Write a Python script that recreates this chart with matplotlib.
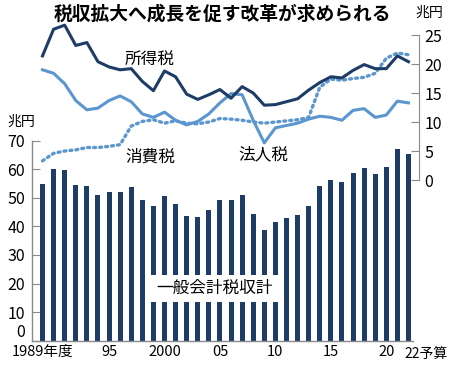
import numpy as np
import matplotlib
matplotlib.use('Agg')
import matplotlib.pyplot as plt

plt.rcParams['font.family'] = ['Noto Sans CJK JP', 'DejaVu Sans']

# fiscal years 1989-2022 (2022 = budget)
years = list(range(1989, 2023))
# general account total tax revenue (trillion yen, left axis)
total = [54.9, 60.1, 59.8, 54.4, 54.1, 51.0, 51.9, 52.1, 53.9, 49.4,
         47.2, 50.7, 47.9, 43.8, 43.3, 45.6, 49.1, 49.1, 51.0, 44.3,
         38.7, 41.5, 42.8, 43.9, 47.0, 54.0, 56.3, 55.5, 58.8, 60.4,
         58.4, 60.8, 67.0, 65.2]
# income tax / corporate tax / consumption tax (right axis)
income = [21.4, 26.0, 26.7, 23.2, 23.7, 20.4, 19.5, 19.0, 19.2, 17.0,
          15.4, 18.8, 17.8, 14.8, 13.9, 14.7, 15.6, 14.1, 16.1, 15.0,
          12.9, 13.0, 13.5, 14.0, 15.5, 16.8, 17.8, 17.6, 18.9, 19.9,
          19.2, 19.2, 21.4, 20.4]
corp = [19.0, 18.4, 16.6, 13.7, 12.1, 12.4, 13.7, 14.5, 13.5, 11.4,
        10.8, 11.7, 10.3, 9.5, 10.1, 11.4, 13.3, 14.9, 14.7, 10.3,
        6.4, 9.0, 9.4, 9.8, 10.5, 11.0, 10.8, 10.3, 12.0, 12.3,
        10.8, 11.2, 13.6, 13.3]
consumption = [3.3, 4.6, 5.0, 5.2, 5.6, 5.6, 5.8, 6.1, 9.3, 10.1,
               10.4, 9.8, 10.2, 9.8, 9.7, 10.0, 10.6, 10.5, 10.3, 10.0,
               9.8, 10.0, 10.2, 10.4, 10.8, 16.0, 17.4, 17.2, 17.5, 17.7,
               18.4, 21.0, 21.9, 21.6]
tick_idx = [0, 6, 11, 16, 21, 26, 31]
tick_labels = ['1989年度', '95', '2000', '05', '10', '15', '20']

navy = '#1d3d66'
blue = '#5b96cf'
grey = '#8a8a8a'

x = np.arange(len(years))

fig = plt.figure(figsize=(4.5, 3.66), dpi=100)
ax = fig.add_axes([32/450, 25.3/366, 387/450, 320.7/366])
ax.bar(x, total, width=0.45, color=navy, zorder=2)
ax.set_xlim(-0.947, 33.95)
ax.set_ylim(0, 112.25)
ax.set_yticks(range(0, 71, 10))
for s in ['top', 'right']:
    ax.spines[s].set_visible(False)
ax.spines['left'].set_bounds(0, 70)
ax.spines['bottom'].set_bounds(-0.947, 33.41)
for s in ['left', 'bottom']:
    ax.spines[s].set_color(grey)
    ax.spines[s].set_linewidth(1)
ax.tick_params(axis='y', direction='in', length=6, color=grey, labelsize=11.5, pad=5)
ax.get_yticklabels()[0].set_va('bottom')
ax.set_xticks(tick_idx)
ax.set_xticklabels(tick_labels)
ax.tick_params(axis='x', length=0, labelsize=10.5, pad=3)
ax.text(32.6, -2.6, '22予算', ha='left', va='top', fontsize=10)

ax.text(15.51, 18.4, '一般会計税収計', ha='center', va='center', fontsize=12,
        zorder=5, bbox=dict(boxstyle='square,pad=0.3', facecolor='white', edgecolor='none'))

ax2 = ax.twinx()
ax2.set_ylim(-27.71, 27.59)
ax2.plot(x, consumption, color=blue, linewidth=2.4, linestyle=(0, (0.6, 1.2)),
         dash_capstyle='round', clip_on=False)
ax2.plot(x, corp, color=blue, linewidth=2.2, clip_on=False)
ax2.plot(x, income, color=navy, linewidth=2.2, clip_on=False)
for s in ['top', 'left', 'bottom']:
    ax2.spines[s].set_visible(False)
ax2.spines['right'].set_bounds(0, 25)
ax2.spines['right'].set_color(grey)
ax2.set_yticks(range(0, 26, 5))
ax2.tick_params(axis='y', direction='in', length=6, color=grey, labelsize=11.5, pad=4)

ax2.text(9.69, 20.7, '所得税', ha='center', va='center', fontsize=12)
ax2.text(9.69, 4.0, '消費税', ha='center', va='center', fontsize=12)
ax2.text(19.88, 4.3, '法人税', ha='center', va='center', fontsize=12)

fig.text(21/450, 1 - 122/366, '兆円', ha='center', va='center', fontsize=10)
fig.text(429/450, 1 - 13/366, '兆円', ha='center', va='center', fontsize=10)
fig.text(222/450, 1 - 14/366, '税収拡大へ成長を促す改革が求められる', ha='center', va='center',
         fontsize=13.5, fontweight='bold')

fig.savefig('out.png', dpi=100)
